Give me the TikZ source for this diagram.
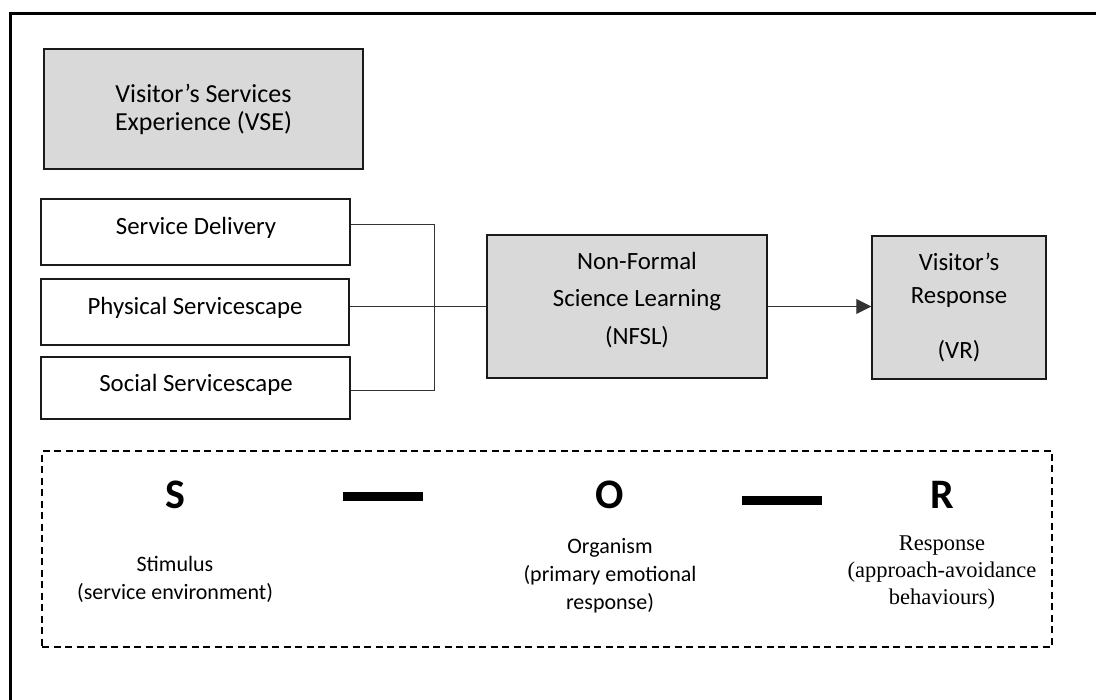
\documentclass[tikz,border=0pt]{standalone}
\usepackage{fontspec}
\setmainfont{Carlito}
\newfontfamily\timesf{Liberation Serif}
\usetikzlibrary{arrows.meta}
\definecolor{boxgray}{HTML}{D9D9D9}
\definecolor{edgec}{HTML}{1A1A1A}
\begin{document}
\begin{tikzpicture}[x=1pt,y=-1pt,
  box/.style={draw=edgec, line width=1.5pt, inner sep=0pt, align=center,
              font=\fontsize{24.5}{28}\selectfont},
  graybox/.style={box, fill=boxgray},
  conn/.style={draw=black!80, line width=1pt},
  txt/.style={inner sep=0pt, align=center, font=\fontsize{22}{28}\selectfont},
  rtxt/.style={inner sep=0pt, align=center, font=\timesf\fontsize{22.5}{27}\selectfont},
  big/.style={inner sep=0pt, font=\bfseries\fontsize{42}{48}\selectfont},
  bar/.style={line width=9pt, draw=black},
  frame/.style={line width=3pt, draw=black}
]
\useasboundingbox (0,0) rectangle (1096,700);
% outer frame (top and left visible)
\coordinate (fbl) at (10,700);
\coordinate (ftl) at (10,14);
\coordinate (ftr) at (1096,14);
\draw[frame] (fbl) -- (ftl) -- (ftr);

% boxes
\node[graybox, minimum width=319pt, minimum height=120pt,
      font=\fontsize{26}{28}\selectfont] (vse) at (203.5,109)
  {Visitor’s Services\\Experience (VSE)};
\node[box, minimum width=309pt, minimum height=66pt] (sd) at (195.5,232) {};
\node[box, minimum width=308pt, minimum height=66pt] (ps) at (195,312) {};
\node[box, minimum width=309pt, minimum height=62pt] (ss) at (195.5,388) {};
\node[inner sep=0pt, font=\fontsize{24.8}{28}\selectfont] (sdt) at (196,228) {Service Delivery};
\node[inner sep=0pt, font=\fontsize{24.8}{28}\selectfont] (pst) at (195,308) {Physical Servicescape};
\node[inner sep=0pt, font=\fontsize{24.8}{28}\selectfont] (sst) at (196,385) {Social Servicescape};

\node[graybox, minimum width=280pt, minimum height=143pt] (nfsl) at (627,306.5) {};
\node[inner sep=0pt, align=center, font=\fontsize{24.8}{37.5}\selectfont] (nfslt) at (637,300)
  {Non-Formal\\Science Learning\\(NFSL)};

\node[graybox, minimum width=174pt, minimum height=143pt,
      font=\fontsize{24.8}{33}\selectfont] (vr) at (959,307.5)
  {Visitor’s\\Response\\[22pt](VR)};

% connectors
\coordinate (jt) at (434,225);
\coordinate (jb) at (434,391);
\draw[conn] (sd.east |- jt) -- (jt) -- (jb) -- (ss.east |- jb);
\draw[conn] (ps.east |- nfsl.west) -- (nfsl.west);
\draw[conn, -{Triangle[length=15pt,width=15pt]}] (nfsl.east) -- (vr.west |- nfsl.east);

% S-O-R panel
\node[draw=black, line width=1.5pt, dash pattern=on 7pt off 4.5pt,
      minimum width=1010pt, minimum height=196pt, inner sep=0pt] (sor) at (547,549) {};
\node[big] (s) at (175,495) {S};
\node[big] (o) at (610,495) {O};
\node[big] (r) at (942,495) {R};
\coordinate (b1a) at (343,497);
\coordinate (b1b) at (423,497);
\coordinate (b2a) at (742,501);
\coordinate (b2b) at (822,501);
\draw[bar] (b1a) -- (b1b);
\draw[bar] (b2a) -- (b2b);
\node[txt] (stim) at (175,579) {Stimulus\\(service environment)};
\node[txt] (org) at (610,576) {Organism\\(primary emotional\\response)};
\node[rtxt] (resp) at (942,573) {Response\\(approach-avoidance\\behaviours)};
\end{tikzpicture}
\end{document}
